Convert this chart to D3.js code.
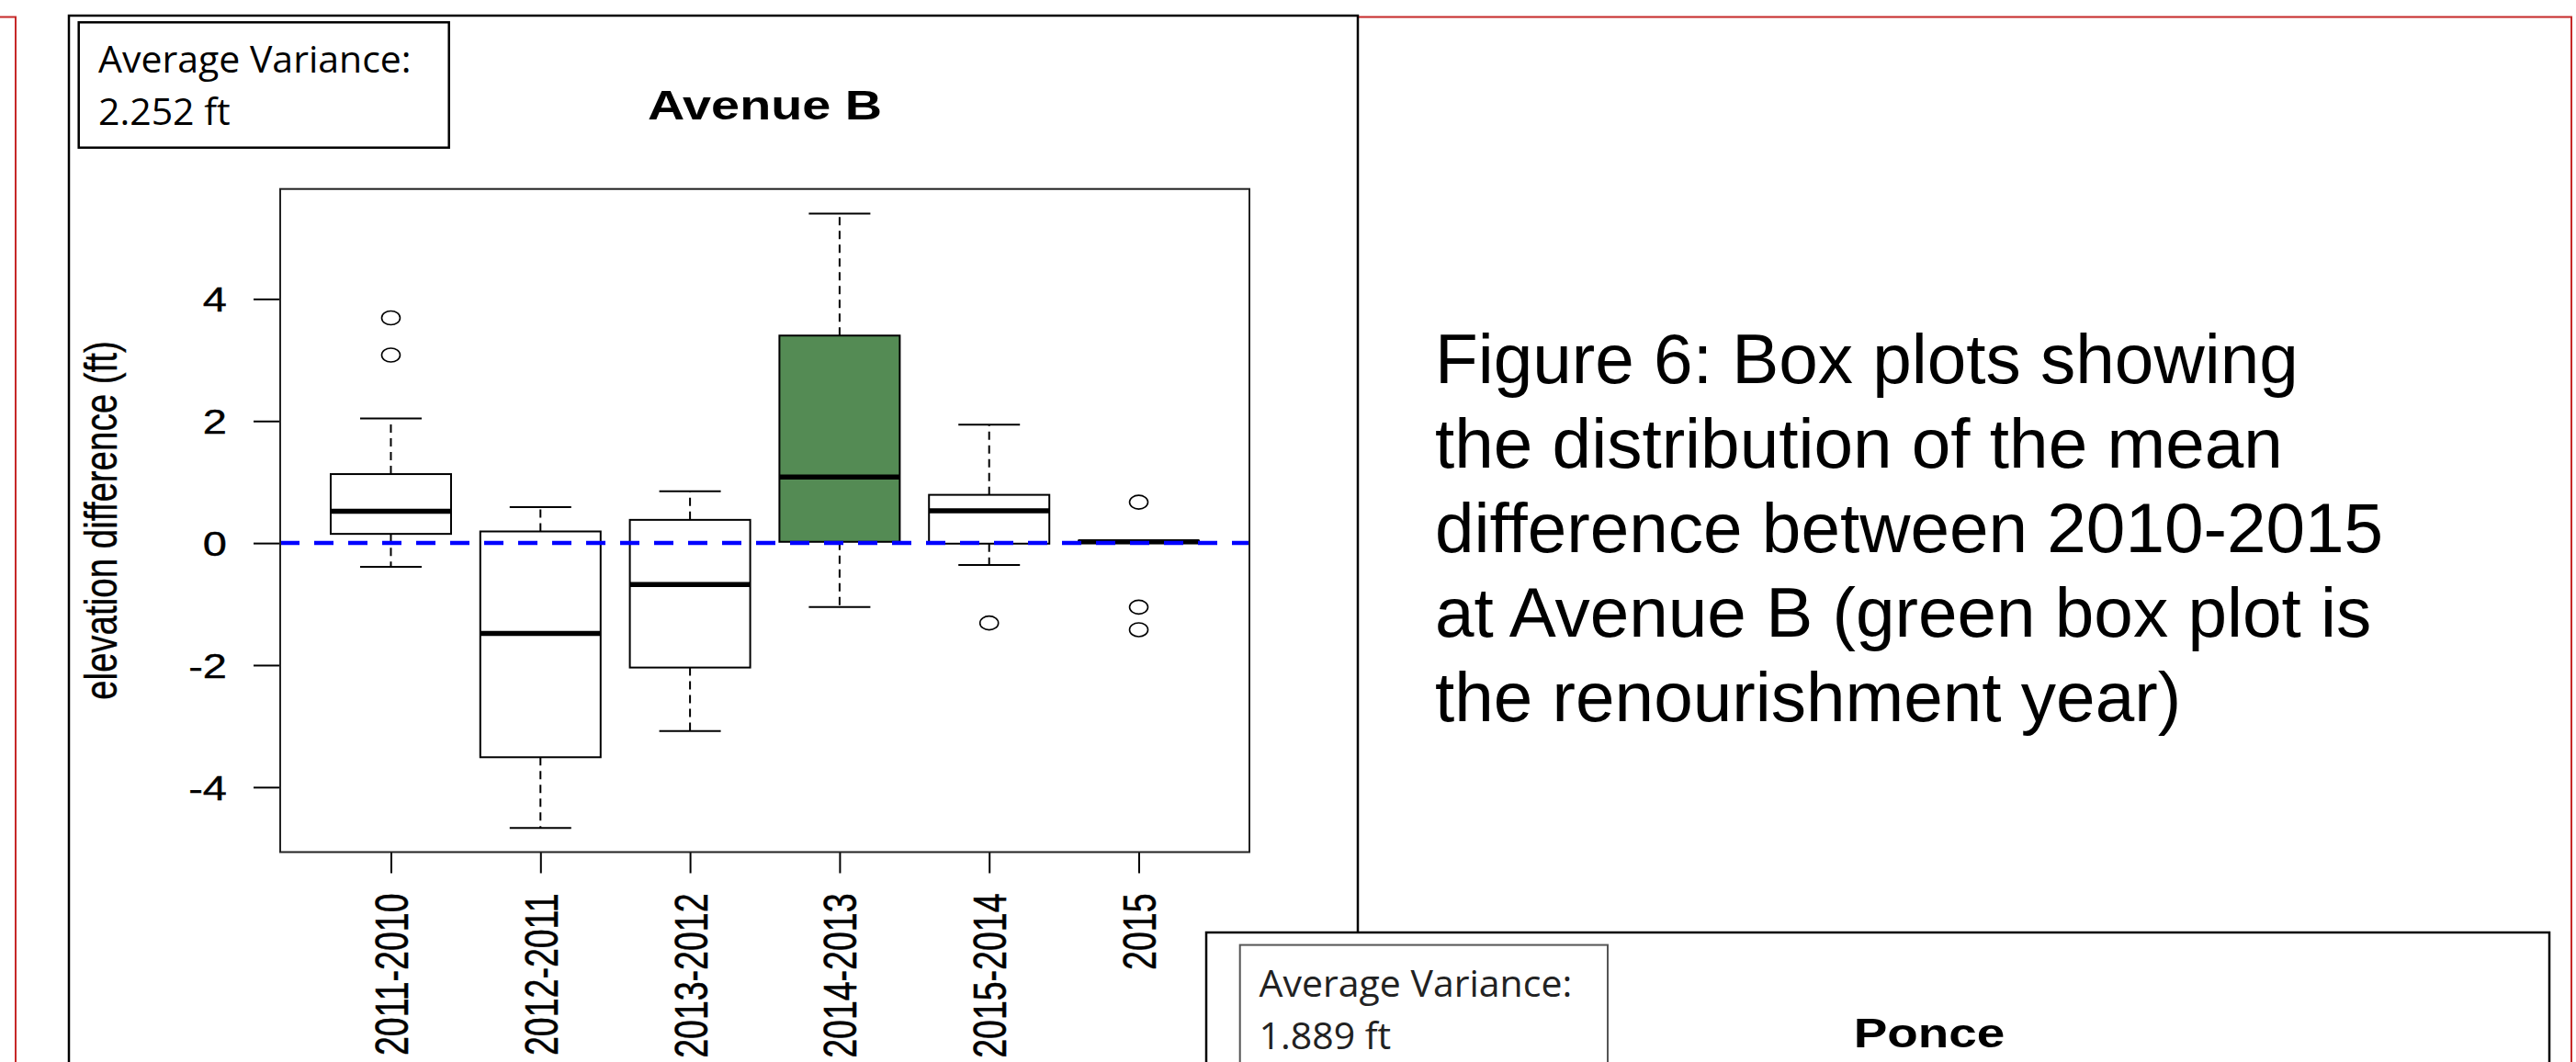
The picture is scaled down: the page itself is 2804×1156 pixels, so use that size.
<!DOCTYPE html>
<html><head><meta charset="utf-8">
<script src="https://cdn.jsdelivr.net/npm/d3@7/dist/d3.min.js"></script>
<style>html,body{margin:0;padding:0;background:#fff;} svg{display:block;}</style>
</head><body>
<svg id="c" width="2804" height="1156"></svg>
<script>
// ---- data ----
const categories = ["2011-2010","2012-2011","2013-2012","2014-2013","2015-2014","2015"];
const whiskerLow  = [-0.39, -4.67, -3.08, -1.05, -0.36, 0.00];
const q1          = [ 0.15, -3.51, -2.04,  0.02, -0.01, 0.00];
const median      = [ 0.52, -1.48, -0.68,  1.08,  0.53, 0.02];
const q3          = [ 1.13,  0.19,  0.38,  3.40,  0.79, 0.04];
const whiskerHigh = [ 2.04,  0.59,  0.85,  5.40,  1.94, 0.04];
const outliers    = [[3.69, 3.08], [], [], [], [-1.31], [0.67, -1.05, -1.42]];
const highlight   = [false, false, false, true, false, false];
const yTicks = [-4, -2, 0, 2, 4];
const yTickLabels = ["-4", "-2", "0", "2", "4"];
const refLine = 0;
const titleA = "Avenue B";
const titleB = "Ponce";
const varianceA = ["Average Variance:", "2.252 ft"];
const varianceB = ["Average Variance:", "1.889 ft"];
const yLabel = "elevation difference (ft)";
const caption = ["Figure 6: Box plots showing", "the distribution of the mean",
  "difference between 2010-2015", "at Avenue B (green box plot is", "the renourishment year)"];

const svg = d3.select("#c");
const SANS = "'Liberation Sans', Arial, sans-serif";
const CAL = "'Open Sans', 'Noto Sans', sans-serif";

// red slide frame
svg.append("path").attr("d", "M0,18.5H17V1156M1478,18.5H2799V1156")
  .attr("fill", "none").attr("stroke", "#c62828").attr("stroke-width", 2);

// Avenue B panel
svg.append("rect").attr("x", 75).attr("y", 17).attr("width", 1403).attr("height", 1300)
  .attr("fill", "#fff").attr("stroke", "#000").attr("stroke-width", 2.5);

// variance box A
svg.append("rect").attr("x", 85.7).attr("y", 24.3).attr("width", 403).attr("height", 136.4)
  .attr("fill", "#fff").attr("stroke", "#000").attr("stroke-width", 2.5);
svg.selectAll("text.varA").data(varianceA).join("text").attr("class", "varA")
  .attr("x", 107).attr("y", (d, i) => [79.3, 135.7][i])
  .attr("font-family", CAL).attr("font-size", 41).attr("fill", "#000").text(d => d);

// scales
const x = d3.scaleLinear().domain([0.26, 6.74]).range([305, 1360]);
const y = d3.scaleLinear().domain([-5.064, 5.802]).range([927.5, 205.7]);
const boxHalf = 65.5, stapleHalf = 33.5;

// title
svg.append("text").attr("transform", `translate(${(x.range()[0] + x.range()[1]) / 2},130.4) scale(1.24,1)`)
  .attr("text-anchor", "middle").attr("font-family", SANS).attr("font-weight", "bold")
  .attr("font-size", 45).text(titleA);

// y axis
const gy = svg.append("g").attr("transform", `translate(${x.range()[0]},0)`)
  .call(d3.axisLeft(y).tickValues(yTicks).tickSize(29)
    .tickFormat(d => yTickLabels[yTicks.indexOf(d)]));
gy.select(".domain").remove();
gy.selectAll(".tick line").attr("stroke", "#000").attr("stroke-width", 2);
gy.selectAll(".tick text").attr("x", null).attr("dy", "0.36em")
  .attr("transform", "translate(-58,0) scale(1.27,1)")
  .attr("font-family", SANS).attr("font-size", 37).attr("fill", "#000")
  .attr("stroke", "#000").attr("stroke-width", 0.4).attr("text-anchor", "end");

// x axis
const gx = svg.append("g").attr("transform", `translate(0,${y.range()[0]})`)
  .call(d3.axisBottom(x).tickValues(d3.range(1, categories.length + 1)).tickSize(23)
    .tickFormat(i => categories[i - 1]));
gx.select(".domain").remove();
gx.selectAll(".tick line").attr("stroke", "#000").attr("stroke-width", 2);
gx.selectAll(".tick text").attr("x", null).attr("y", null).attr("dy", "0.36em")
  .attr("transform", "translate(0,45) rotate(-90) scale(1,1.33)")
  .attr("text-anchor", "end").attr("font-family", SANS).attr("font-size", 37.5).attr("fill", "#000")
  .attr("stroke", "#000").attr("stroke-width", 0.4);

// y label
svg.append("text")
  .attr("transform", `translate(127,${(y.range()[0] + y.range()[1]) / 2}) rotate(-90) scale(1,1.28)`)
  .attr("text-anchor", "middle").attr("font-family", SANS).attr("font-size", 38.5)
  .attr("stroke", "#000").attr("stroke-width", 0.3).text(yLabel);

// boxes
const boxes = svg.append("g");
categories.forEach((c, i) => {
  const cx = x(i + 1);
  const g = boxes.append("g");
  // whiskers
  g.append("line").attr("x1", cx).attr("x2", cx).attr("y1", y(q3[i])).attr("y2", y(whiskerHigh[i]))
    .attr("stroke", "#000").attr("stroke-width", 2).attr("stroke-dasharray", "9,6");
  g.append("line").attr("x1", cx).attr("x2", cx).attr("y1", y(q1[i])).attr("y2", y(whiskerLow[i]))
    .attr("stroke", "#000").attr("stroke-width", 2).attr("stroke-dasharray", "9,6");
  // staples
  [whiskerHigh[i], whiskerLow[i]].forEach(v => {
    g.append("line").attr("x1", cx - stapleHalf).attr("x2", cx + stapleHalf).attr("y1", y(v)).attr("y2", y(v))
      .attr("stroke", "#000").attr("stroke-width", 2);
  });
  // box
  g.append("rect").attr("x", cx - boxHalf).attr("width", 2 * boxHalf)
    .attr("y", y(q3[i])).attr("height", Math.max(0.5, y(q1[i]) - y(q3[i])))
    .attr("fill", highlight[i] ? "#548B54" : "#fff").attr("stroke", "#000").attr("stroke-width", 2);
  // median
  g.append("line").attr("x1", cx - boxHalf).attr("x2", cx + boxHalf).attr("y1", y(median[i])).attr("y2", y(median[i]))
    .attr("stroke", "#000").attr("stroke-width", 5.5);
  // outliers
  g.selectAll("ellipse").data(outliers[i]).join("ellipse")
    .attr("cx", cx).attr("cy", d => y(d)).attr("rx", 10).attr("ry", 7.5)
    .attr("fill", "none").attr("stroke", "#000").attr("stroke-width", 1.6);
});

// reference line at 0
svg.append("line").attr("x1", x.range()[0]).attr("x2", x.range()[1]).attr("y1", y(refLine)).attr("y2", y(refLine))
  .attr("stroke", "#0000ff").attr("stroke-width", 4.5).attr("stroke-dasharray", "21,16");

// plot frame
svg.append("rect").attr("x", x.range()[0]).attr("y", y.range()[1])
  .attr("width", x.range()[1] - x.range()[0]).attr("height", y.range()[0] - y.range()[1])
  .attr("fill", "none").attr("stroke", "#222").attr("stroke-width", 2);

// caption
svg.selectAll("text.cap").data(caption).join("text").attr("class", "cap")
  .attr("x", 1562).attr("y", (d, i) => 417 + i * 92)
  .attr("font-family", SANS).attr("font-size", 76.5).attr("fill", "#000").text(d => d);

// Ponce panel
svg.append("rect").attr("x", 1313).attr("y", 1015).attr("width", 1462).attr("height", 300)
  .attr("fill", "#fff").attr("stroke", "#000").attr("stroke-width", 2.5);
svg.append("rect").attr("x", 1349.7).attr("y", 1028.6).attr("width", 400.3).attr("height", 300)
  .attr("fill", "#fff").attr("stroke", "#555").attr("stroke-width", 2);
svg.selectAll("text.varB").data(varianceB).join("text").attr("class", "varB")
  .attr("x", 1370.6).attr("y", (d, i) => [1084.5, 1141.5][i])
  .attr("font-family", CAL).attr("font-size", 41).attr("fill", "#222").text(d => d);
svg.append("text").attr("transform", "translate(2100,1140) scale(1.22,1)")
  .attr("text-anchor", "middle").attr("font-family", SANS).attr("font-weight", "bold")
  .attr("font-size", 45).text(titleB);
</script>
</body></html>
